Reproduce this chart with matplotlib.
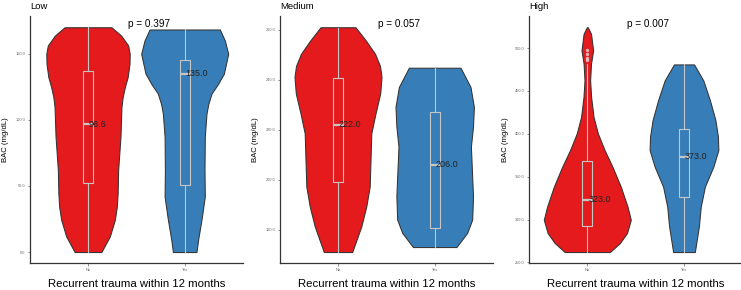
#!/usr/bin/env python3

import matplotlib.pyplot as plt
import matplotlib.ticker as mticker

plt.rcParams["font.family"] = ["Liberation Sans", "DejaVu Sans"]

GROUPS = ["No", "Yes"]
PANELS = ["Low", "Medium", "High"]
P_VALUES = ["p = 0.397", "p = 0.057", "p = 0.007"]
TICK_STEP = [50, 20, 50]

# violin outlines: BAC level and relative density (width)
LOW_NO_Y = [0, 11.8, 24.4, 34.4, 44.5, 62.1, 87.2, 109.8, 117.3, 124.9, 132.4, 142.5, 150, 156.3, 163.8, 170.1]
LOW_NO_W = [13.3, 21.7, 26.7, 28.7, 29.5, 30, 32.3, 33.3, 34.5, 36.7, 39.5, 41.3, 41.5, 40, 33, 23.3]
LOW_YES_Y = [0, 10, 24.4, 41.9, 62, 87.2, 104.8, 112, 119.9, 127, 135, 150, 160, 168.4]
LOW_YES_W = [11.7, 13.5, 16.7, 20, 19.7, 20, 21.7, 23.5, 26.7, 33, 39, 43.3, 40, 35]

MED_NO_Y = [171, 181.3, 189.3, 197.3, 207.9, 218.5, 226.5, 234.5, 241.1, 245.5, 250.4, 255.7, 261]
MED_NO_W = [14.2, 23.3, 28.3, 31.7, 32.5, 33.3, 37.5, 42.2, 43.5, 42, 37, 27.8, 17.5]
MED_YES_Y = [173, 178.7, 184, 193.3, 203.9, 213.2, 221.2, 229.1, 237.1, 244.8]
MED_YES_W = [21.7, 32.5, 37.5, 38.3, 37.2, 36.2, 38.3, 39.2, 35.8, 25.8]

HIGH_NO_Y = [262, 272.6, 284.2, 299.7, 315.1, 338.4, 361.6, 381, 400.5, 419.8, 443, 462.4, 481.9, 497.3, 516.7, 524.4]
HIGH_NO_W = [22.5, 32.5, 39.5, 43.3, 40, 33.3, 25, 17.2, 10.5, 6.2, 3.8, 2.8, 3.7, 5.8, 3.7, 0.5]
HIGH_YES_Y = [262, 291.9, 315.1, 338.4, 361.6, 381, 396.5, 415.9, 439.2, 462.4, 481]
HIGH_YES_W = [10.8, 14.8, 16.7, 20.8, 29.2, 34.2, 33.8, 31.3, 25.8, 19.2, 10]

# boxplot stats: lower whisker, q1, median, q3, upper whisker
LOW_NO_BOX = [0, 52.5, 96.6, 137.0, 170.1]
LOW_YES_BOX = [0, 50.7, 135.0, 145.5, 168.4]
MED_NO_BOX = [171, 199.0, 222.0, 240.8, 260.8]
MED_YES_BOX = [173, 180.7, 206.0, 226.9, 244.8]
HIGH_NO_BOX = [262, 292.7, 323.0, 368.6, 481.9]
HIGH_YES_BOX = [262, 326.0, 373.0, 405.1, 481.0]
HIGH_NO_OUTLIERS = [498, 493, 489, 486]

COLORS = ["#E41A1C", "#377EB8"]


def box_stats(vals, fliers=()):
    lo, q1, med, q3, hi = vals
    return dict(whislo=lo, q1=q1, med=med, q3=q3, whishi=hi, fliers=list(fliers))


if __name__ == "__main__":
    violins = [
        [(LOW_NO_Y, LOW_NO_W), (LOW_YES_Y, LOW_YES_W)],
        [(MED_NO_Y, MED_NO_W), (MED_YES_Y, MED_YES_W)],
        [(HIGH_NO_Y, HIGH_NO_W), (HIGH_YES_Y, HIGH_YES_W)],
    ]
    boxes = [
        [box_stats(LOW_NO_BOX), box_stats(LOW_YES_BOX)],
        [box_stats(MED_NO_BOX), box_stats(MED_YES_BOX)],
        [box_stats(HIGH_NO_BOX, HIGH_NO_OUTLIERS), box_stats(HIGH_YES_BOX)],
    ]

    W, H = 741, 290
    fig = plt.figure(figsize=(W / 100, H / 100), dpi=100)
    lefts = [30, 280, 529.3]

    for k, panel in enumerate(PANELS):
        ax = fig.add_axes([lefts[k] / W, 26.7 / H, 212.7 / W, 247.3 / H])
        maxw = max(max(w) for _, w in violins[k])
        for i, (ys, ws) in enumerate(violins[k]):
            hw = [0.45 * w / maxw for w in ws]
            ax.fill_betweenx(ys, [i - h for h in hw], [i + h for h in hw],
                             facecolor=COLORS[i], edgecolor="#333333", lw=0.75, zorder=1)

        grey = "#c6c6c6"
        ax.bxp(boxes[k], positions=range(len(GROUPS)), widths=0.1,
               showcaps=False, patch_artist=True,
               boxprops=dict(facecolor="none", edgecolor=grey, lw=0.8),
               whiskerprops=dict(color=grey, lw=0.8),
               medianprops=dict(color=grey, lw=1.6),
               flierprops=dict(marker="o", markersize=2.5, markerfacecolor="#d8d8d8",
                               markeredgecolor="none", alpha=0.8),
               zorder=2)
        for i, b in enumerate(boxes[k]):
            ax.text(i + 0.01, b["med"], f"{b['med']:.1f}", ha="left", va="center",
                    fontsize=6.5, color="#222222", zorder=3)

        ax.set_xlim(-0.6, 1.6)
        ax.margins(y=0.05)
        ax.set_xticks(range(len(GROUPS)), GROUPS)
        ax.yaxis.set_major_locator(mticker.MultipleLocator(TICK_STEP[k]))
        ax.yaxis.set_major_formatter(mticker.FormatStrFormatter("%.1f"))
        ax.tick_params(labelsize=2.8, labelcolor="#666666", color="#666666",
                       length=1.8, width=0.5, pad=1.5)

        for s in ["top", "right"]:
            ax.spines[s].set_visible(False)
        for s in ["left", "bottom"]:
            ax.spines[s].set_color("#333333")
            ax.spines[s].set_linewidth(0.9)

        ax.text(0.41, 0.968, P_VALUES[k], transform=ax.get_xaxis_transform(),
                ha="left", va="center", fontsize=7.2)
        ax.set_title(panel, loc="left", fontsize=6.8, pad=4.8)
        ax.set_ylabel("BAC (mg/dL)", fontsize=5.6)
        ax.yaxis.set_label_coords(-0.097, 0.5)
        ax.set_xlabel("Recurrent trauma within 12 months", fontsize=8.2)
        ax.xaxis.set_label_coords(0.5, -0.064)

    fig.savefig("out.png", dpi=100)
